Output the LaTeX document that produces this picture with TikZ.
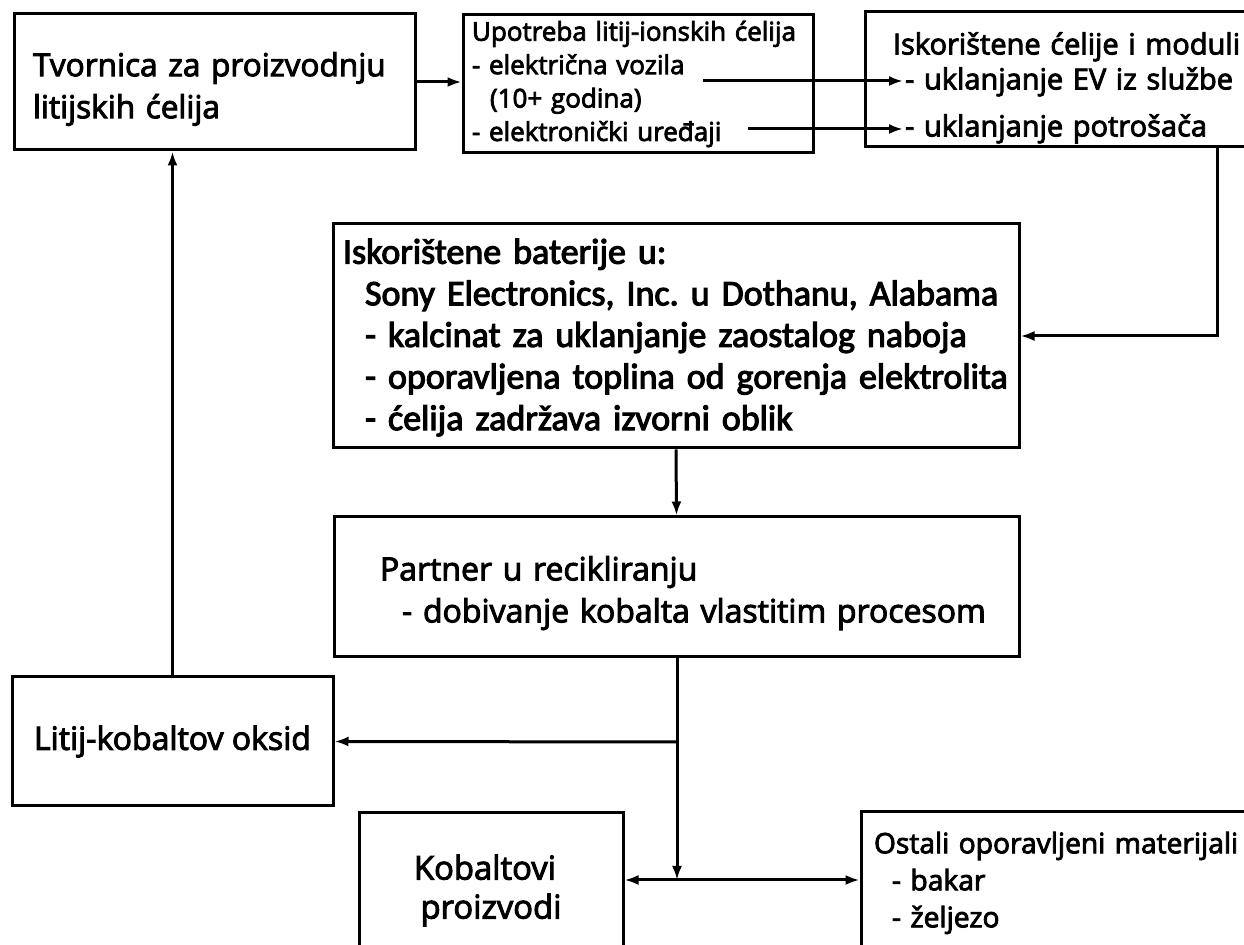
\documentclass[tikz,border=0pt]{standalone}
\usepackage{fontspec}
\setmainfont{Open Sans}[FakeBold=3]
\newfontfamily\calibri{Carlito}[FakeBold=3]
\usetikzlibrary{arrows.meta}
\tikzset{
    >={Latex[length=7pt,width=5pt]}, % glave strelica
    kutija/.style={draw, rectangle, line width=1.5pt, align=left, inner ysep=0pt}, % okviri
    spusti/.style={execute at begin node={\rule{0pt}{#1}}}, % visi prvi redak -> tekst nize
}
\tikzstyle{arrow} = [line width=1.5pt, ->]

\begin{document}
\frenchspacing
\begin{tikzpicture}[x=0.5pt, y=-0.5pt]
    \useasboundingbox (0,0) rectangle (1244,945);
    \clip (0,0) rectangle (1244,945);

    % Kutije
    \node[kutija, spusti=19pt, minimum height=68pt, inner xsep=9.5pt, text width=181.5pt,
          font=\fontsize{15.8}{21}\selectfont] (tvornica) at (214.5,82)
          {Tvornica za proizvodnju\\litijskih ćelija};
    \node[kutija, minimum height=69pt, inner xsep=4.5pt, text width=166pt,
          font=\fontsize{13}{16.7}\selectfont] (upotreba) at (638,84)
          {Upotreba litij-ionskih ćelija\\- električna vozila\\\hspace*{9pt}(10+ godina)\\- elektronički uređaji};
    \node[kutija, spusti=19.4pt, minimum height=67.5pt, inner xsep=14pt, text width=180pt,
          font=\fontsize{14.5}{17.5}\selectfont] (iskoristene) at (1073,79.5)
          {Iskorištene ćelije i moduli\\\hspace*{6pt}- uklanjanje EV iz službe\\[6pt]\hspace*{6pt}- uklanjanje potrošača};
    \node[kutija, spusti=14pt, minimum height=112pt, inner xsep=3pt, text width=337pt,
          font=\calibri\fontsize{18}{20.8}\selectfont] (baterije) at (676,336)
          {\hspace*{2pt}Iskorištene baterije u:\\
           \hspace*{13pt}Sony Electronics, Inc. u Dothanu, Alabama\\
           \hspace*{13pt}- kalcinat za uklanjanje zaostalog naboja\\
           \hspace*{13pt}- oporavljena toplina od gorenja elektrolita\\
           \hspace*{13pt}- ćelija zadržava izvorni oblik};
    \node[kutija, spusti=18.2pt, minimum height=70pt, inner xsep=15pt, text width=312.5pt,
          font=\fontsize{16}{21}\selectfont] (partner) at (676.5,587)
          {\hspace*{8pt}Partner u recikliranju\\\hspace*{19pt}- dobivanje kobalta vlastitim procesom};
    \node[kutija, minimum width=160.5pt, minimum height=64.5pt, align=center,
          font=\fontsize{16}{18}\selectfont] (litij) at (172.5,741.5)
          {Litij-kobaltov oksid};
    \node[kutija, spusti=23pt, minimum height=67pt, inner xsep=6pt, text width=120pt, align=center,
          font=\fontsize{16.4}{19.5}\selectfont] (kobaltovi) at (491,880)
          {\hspace*{-6pt}Kobaltovi\\proizvodi};
    \node[kutija, spusti=13.7pt, minimum height=68pt, inner xsep=6.5pt, text width=190pt,
          font=\fontsize{14.1}{18.5}\selectfont] (ostali) at (1064,880)
          {Ostali oporavljeni materijali\\\hspace*{9pt}- bakar\\\hspace*{9pt}- željezo};

    % Tocke za strelice
    \coordinate (evA) at (703,81);
    \coordinate (evB) at (903,81);
    \coordinate (udA) at (748,129);
    \coordinate (udB) at (903,129);
    \coordinate (povrat) at (1217,336);
    \coordinate (grana) at (677,742);
    \coordinate (spoj) at (677,880);

    % Strelice
    \draw[arrow] (tvornica.east) -- (tvornica.east -| upotreba.west);
    \draw[arrow] (evA) -- (evB);
    \draw[arrow] (udA) -- (udB);
    \draw[arrow] (iskoristene.south -| povrat) |- (baterije.east);
    \draw[arrow] (baterije.south) -- (partner.north);
    \draw[arrow] (partner.south -| spoj) -- (spoj);
    \draw[arrow] (grana) -- (litij.east);
    \draw[arrow] (litij.north) -- (litij.north |- tvornica.south);
    \draw[arrow, <->] (kobaltovi.east) -- (ostali.west);
\end{tikzpicture}
\end{document}
